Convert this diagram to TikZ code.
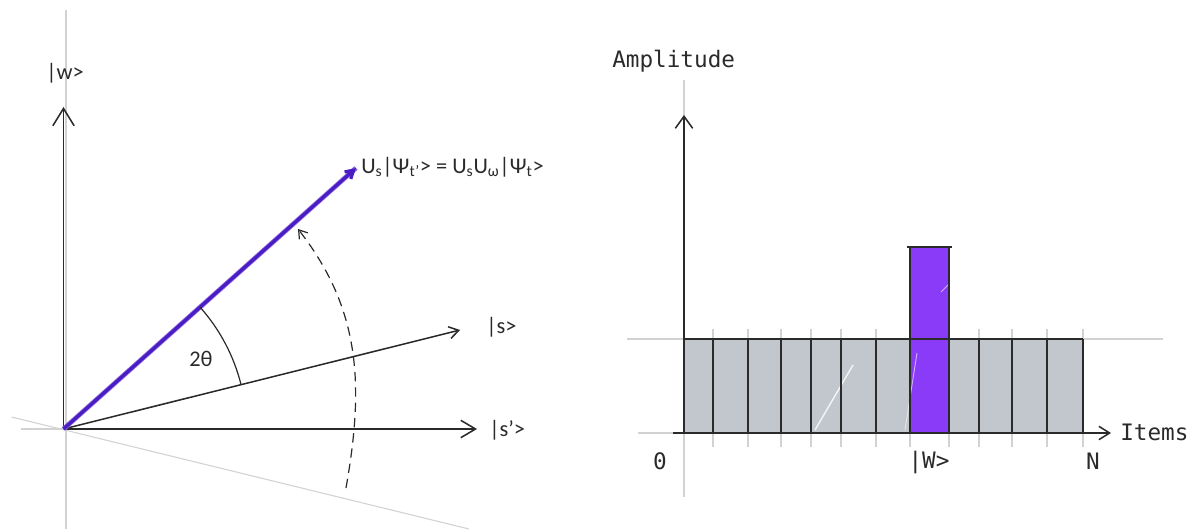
\documentclass[tikz,border=0pt]{standalone}
\usepackage{fontspec}
\setmainfont{Carlito}
\newfontfamily\monof{DejaVu Sans Mono}
\usetikzlibrary{arrows.meta}
\definecolor{axiscol}{HTML}{2A2A2A}
\definecolor{faint}{HTML}{D2D2D2}
\definecolor{barfill}{HTML}{C2C7CD}
\definecolor{barpurple}{HTML}{8A3BF8}
\definecolor{vecpurple}{HTML}{4A1CC4}
\definecolor{vecedge}{HTML}{8E6AE0}
\begin{document}
\begin{tikzpicture}[x=0.75pt,y=0.75pt,
  axisline/.style={draw=axiscol, line width=1.15pt},
  faintline/.style={draw=faint, line width=0.8pt},
  leftlbl/.style={font=\fontsize{16.8}{19}\selectfont, text=axiscol, inner sep=0pt, anchor=west},
  monolbl/.style={font=\monof\fontsize{17}{20}\selectfont, text=axiscol, inner sep=0pt}]
\useasboundingbox (0,0) rectangle (1200,529);

% ---------------- left diagram ----------------
\coordinate (O) at (63.5,100);
\coordinate (wtip) at (63.5,422);
\coordinate (sptip) at (477,100);
\coordinate (stip) at (460,199);
\coordinate (psitip) at (356,361);
\coordinate (gv1) at (66,519);
\coordinate (gv2) at (66,0);
\coordinate (gh1) at (21,100);
\coordinate (gd1) at (11.5,112);
\coordinate (gd2) at (469,0);

\draw[faintline] (gv1) -- (gv2);
\draw[faintline] (gh1) -- (O);
\draw[faintline] (gd1) -- (gd2);

\draw[axisline, -{Straight Barb[length=13pt,width=16pt]}] (O) -- (wtip);
\draw[axisline, -{Straight Barb[length=11pt,width=13pt]}] (O) -- (sptip);
\draw[axisline, -{Straight Barb[length=7pt,width=9pt]}] (O) -- (stip);

\draw[vecedge, line width=3.6pt] (O) -- (psitip);
\draw[vecpurple, line width=2.4pt, -{Straight Barb[length=6pt,width=7pt]}] (O) -- (psitip);

\coordinate (a1) at ([shift={(14:183)}]O);
\draw[axisline, line width=0.9pt] (a1) arc[start angle=14, end angle=41.7, radius=183];

\coordinate (d1) at (346,41);
\coordinate (d2) at (298,300);
\draw[axisline, line width=0.9pt, dash pattern=on 7pt off 4.5pt,
      -{Straight Barb[length=6pt,width=8pt]}] (d1) to[out=80, in=-52] (d2);

\node[leftlbl] (wl) at (46,456) {|w>};
\node[leftlbl] (spl) at (489,99) {|s’>};
\node[leftlbl] (sl) at (486,202) {|s>};
\node[leftlbl] (eq) at (361,362) {U\textsubscript{s}|Ψ\textsubscript{t’}> = U\textsubscript{s}U\textsubscript{ω}|Ψ\textsubscript{t}>};
\node[font=\fontsize{16.8}{19}\selectfont, text=axiscol, inner sep=0pt] (th) at (201,170) {2θ};

% ---------------- right diagram ----------------
\coordinate (vg1) at (684,449);
\coordinate (vg2) at (684,32);
\coordinate (hg1) at (627,190);
\coordinate (hg2) at (1163,190);
\coordinate (hb1) at (638,96);
\coordinate (ax0) at (673,96);
\coordinate (axx) at (1111,96);
\coordinate (ay0) at (684,96);
\coordinate (ayy) at (684,414);

\fill[barfill] (683,97) rectangle (1083,190);
\fill[barpurple] (910,97) rectangle (949,282);
\draw[white, line width=1pt, opacity=0.85] (815,99) -- (853,164);
\draw[white, line width=0.7pt, opacity=0.6] (905,99) -- (917,176);
\draw[white, line width=0.7pt, opacity=0.6] (941,237) -- (948,244);

\draw[faintline] (vg1) -- (vg2);
\draw[faintline] (hg1) -- (hg2);
\draw[faintline] (hb1) -- (ax0);
\foreach \xx in {713,748,781,811,841,876,910,949,979,1012,1047,1083} {
  \draw[faintline] (\xx,82) -- (\xx,200);
}
\foreach \xx in {713,748,781,811,841,876,910,949,979,1012,1047,1083} {
  \draw[axisline] (\xx,97) -- (\xx,190);
}
\draw[axisline] (683,190) -- (1083,190);
\draw[axisline] (910,190) -- (910,282);
\draw[axisline] (949,190) -- (949,282);
\draw[axisline] (907,282) -- (952,282);

\draw[axisline, -{Straight Barb[length=9pt,width=13pt]}] (ay0) -- (ayy);
\draw[axisline, -{Straight Barb[length=8pt,width=10pt]}] (ax0) -- (axx);

\node[monolbl, anchor=west] (amp) at (612,468) {Amplitude};
\node[monolbl, anchor=west] (items) at (1120,97) {Items};
\node[monolbl] (zero) at (660,68) {0};
\node[monolbl] (wlab) at (929,66) {|W>};
\node[monolbl] (nlab) at (1093,68) {N};
\end{tikzpicture}
\end{document}
